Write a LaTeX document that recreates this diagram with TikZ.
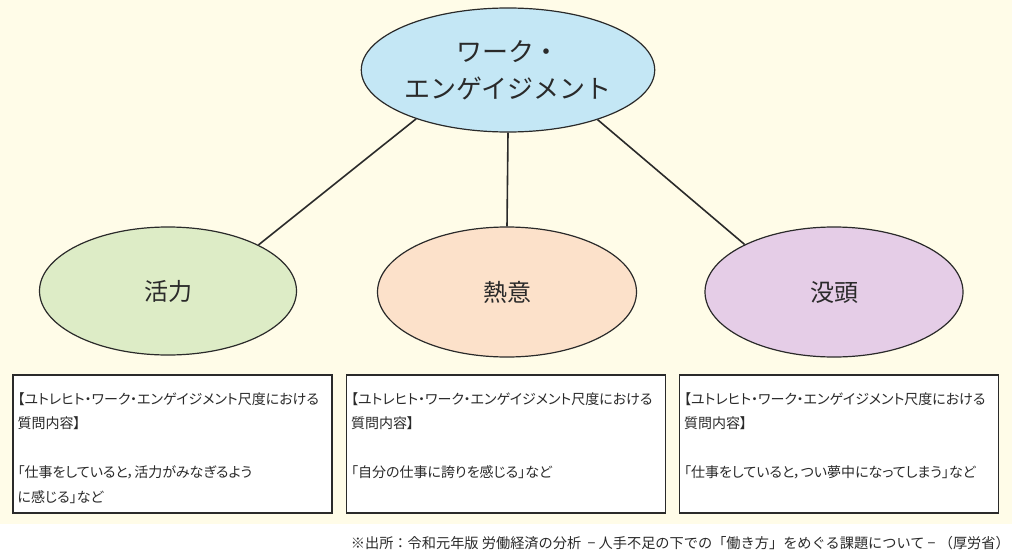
\documentclass[tikz,border=0pt]{standalone}
\usepackage{fontspec}
\usetikzlibrary{shapes.geometric}
\newfontfamily\jp{Noto Sans CJK JP}
\newfontfamily\jpp[RawFeature=+palt]{Noto Sans CJK JP}
\definecolor{cream}{HTML}{FFFCE8}
\definecolor{cblue}{HTML}{C4E7F5}
\definecolor{cgreen}{HTML}{DDECC6}
\definecolor{cpeach}{HTML}{FCE1CA}
\definecolor{cpurple}{HTML}{E5CDE7}
\definecolor{ink}{HTML}{2A2A2A}
\begin{document}
\begin{tikzpicture}[x=1pt,y=-1pt,
  oval/.style={ellipse,draw=ink,line width=1.2pt,inner sep=0pt,text=ink},
  small/.style={oval,font={\jp\fontsize{24}{24}\selectfont}},
  qbox/.style={draw=ink,line width=1.3pt,fill=white,minimum width=319pt,minimum height=138pt,inner sep=0pt},
  qtext/.style={anchor=north west,align=left,inner sep=0pt,text=ink,font={\jpp\fontsize{14}{24.5}\selectfont}},
  link/.style={draw=ink,line width=1.6pt}]
\useasboundingbox (0,0) rectangle (1024,559);
\fill[white] (0,0) rectangle (1024,559);
\fill[cream] (0,0) rectangle (1012,524);

\node[oval,fill=cblue,minimum width=274pt,minimum height=124pt,align=center,
  font={\jp\fontsize{26}{37}\selectfont}] (top) at (508,70) {ワーク・\\エンゲイジメント};
\node[small,fill=cgreen,minimum width=257pt,minimum height=128pt] (vig) at (168,291) {活力};
\node[small,fill=cpeach,minimum width=259pt,minimum height=130pt] (ded) at (507,292) {熱意};
\node[small,fill=cpurple,minimum width=258pt,minimum height=130pt] (abs) at (834,292) {没頭};

\draw[link] (top.208) -- (vig.27);
\draw[link] (top.south) -- (ded.north);
\draw[link] (top.331) -- (abs.152);

\node[qbox] (b1) at (172.5,444) {};
\node[qbox] (b2) at (506,444) {};
\node[qbox] (b3) at (839,444) {};

\node[qtext] (t1) at ([shift={(5,18)}]b1.north west) {【ユトレヒト・ワーク・エンゲイジメント尺度における\\質問内容】\\[24.5pt]「仕事をしていると，活力がみなぎるよう\\に感じる」など};
\node[qtext] (t2) at ([shift={(5,18)}]b2.north west) {【ユトレヒト・ワーク・エンゲイジメント尺度における\\質問内容】\\[24.5pt]「自分の仕事に誇りを感じる」など};
\node[qtext] (t3) at ([shift={(5,18)}]b3.north west) {【ユトレヒト・ワーク・エンゲイジメント尺度における\\質問内容】\\[24.5pt]「仕事をしていると，つい夢中になってしまう」など};

\node[anchor=east,inner sep=0pt,text=ink,font={\jp\fontsize{14.2}{14}\selectfont}] (src) at (1010,543)
  {※出所：令和元年版\ 労働経済の分析\ \ −\ 人手不足の下での「働き方」をめぐる課題について\ −\ （厚労省）};
\end{tikzpicture}
\end{document}
